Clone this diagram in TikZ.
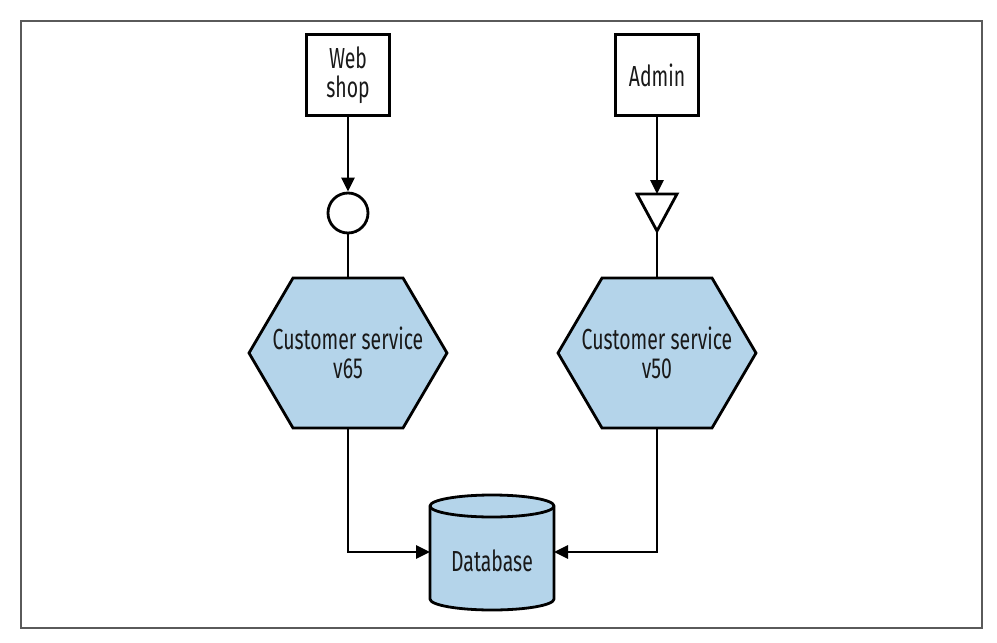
\documentclass[tikz,border=0pt]{standalone}
\usepackage{fontspec}
\setmainfont[FakeStretch=0.67]{Fira Sans}
\usetikzlibrary{arrows.meta}
\definecolor{svcblue}{RGB}{180,212,234}
\definecolor{framegray}{RGB}{90,90,90}
\tikzset{
  lbl/.style={font=\fontsize{29}{29}\selectfont, align=center, text=black!90},
  ext/.style={draw, line width=2.8pt, minimum width=83pt, minimum height=81pt, inner sep=0pt, lbl},
  conn/.style={line width=2.8pt},
  arr/.style={conn, -{Triangle[length=14pt,width=13pt]}},
  shapeline/.style={draw, line width=2.8pt, line join=miter},
  anchorbox/.style={inner sep=0pt, outer sep=0pt, lbl}
}
\begin{document}
\begin{tikzpicture}[x=1pt,y=-1pt]
\useasboundingbox (0,0) rectangle (997,643);
\draw[framegray, line width=1.6pt] (21,21) rectangle (982,628);

% external clients
\node[ext] (web) at (348,75) {Web\\shop};
\node[ext] (admin) at (657,75) {Admin};

% circle interface
\node[draw, circle, line width=2.8pt, minimum size=40pt, inner sep=0pt] (circ) at (348,213) {};

% triangle interface
\draw[shapeline] (637,194) -- (677,194) -- (657,231) -- cycle;
\coordinate (tritop) at (657,194);
\coordinate (triapex) at (657,231);

% hexagons
\foreach \cx in {348,657}{
  \filldraw[shapeline, fill=svcblue] (\cx-99,353) -- (\cx-55,278) -- (\cx+55,278) -- (\cx+99,353) -- (\cx+55,428) -- (\cx-55,428) -- cycle;
}
\node[anchorbox, minimum width=198pt, minimum height=150pt] (hexa) at (348,353) {Customer service\\v65};
\node[anchorbox, minimum width=198pt, minimum height=150pt] (hexb) at (657,353) {Customer service\\v50};

% database cylinder
\filldraw[shapeline, fill=svcblue] (430,506) -- (430,599) arc[start angle=180, end angle=0, x radius=62, y radius=11] -- (554,506) arc[start angle=0, end angle=-180, x radius=62, y radius=11] -- cycle;
\draw[shapeline] (430,506) arc[start angle=180, end angle=0, x radius=62, y radius=11];
\node[anchorbox, minimum width=124pt, minimum height=94pt] (db) at (492,552) {};
\node[lbl] (dblabel) at (492,561) {Database};

% connectors
\draw[arr] (web.south) -- (circ.north);
\draw[conn] (circ.south) -- (hexa.north);
\draw[arr] (admin.south) -- (tritop);
\draw[conn] (triapex) -- (hexb.north);
\draw[arr] (hexa.south) |- (db.west);
\draw[arr] (hexb.south) |- (db.east);
\end{tikzpicture}
\end{document}
